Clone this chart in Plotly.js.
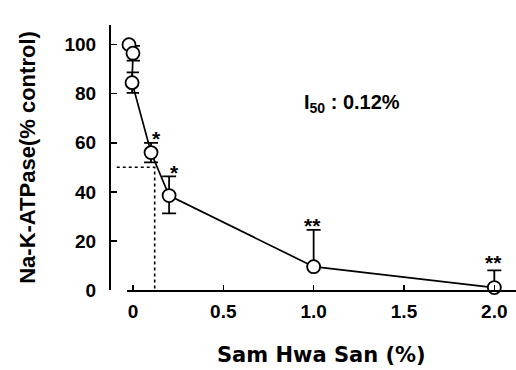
<!DOCTYPE html>
<html><head><meta charset="utf-8">
<script src="https://cdn.plot.ly/plotly-3.0.1.min.js"></script>
<style>body{margin:0;background:#fff}#chart{width:516px;height:370px}</style>
</head><body><div id="chart"></div>
<script>
// Data
const conc = [-0.022, 0.0, -0.005, 0.1, 0.2, 1.0, 2.0];          // Sam Hwa San (%)
const activity = [100, 96.5, 84.5, 56, 38.5, 9.5, 1];             // Na-K-ATPase (% control)
const errPlus = [0, 3, 4.2, 4, 7.8, 15, 7];
const errMinus = [0, 3, 4.2, 4, 7.3, 0, 0];
const signif = ["", "", "", "*", "*", "**", "**"];
const i50 = 0.12;
const i50Level = 50;
const xTicks = [0, 0.5, 1.0, 1.5, 2.0];
const xTickText = ["0", "0.5", "1.0", "1.5", "2.0"];
const yTicks = [0, 20, 40, 60, 80, 100];

const FONT = "Arial, 'Liberation Sans', sans-serif";
const WIDE = "'DejaVu Sans', Arial, sans-serif";

const traces = [
  {
    x: [-0.09, i50, i50], y: [i50Level, i50Level, 0],
    xaxis: "x2", yaxis: "y",
    mode: "lines", line: {color: "#000", width: 1.6, dash: "dot"},
    hoverinfo: "skip", showlegend: false
  },
  {
    x: conc, y: activity, mode: "lines+markers",
    line: {color: "#000", width: 1.7},
    marker: {symbol: "circle", size: 13, color: "#fff", line: {color: "#000", width: 1.8}},
    error_y: {type: "data", symmetric: false, array: errPlus, arrayminus: errMinus,
              color: "#000", thickness: 1.8, width: 7},
    showlegend: false, cliponaxis: false
  }
];

const annotations = [];
signif.forEach((s, i) => {
  if (!s) return;
  annotations.push({
    x: conc[i], y: activity[i] + errPlus[i], xref: "x", yref: "y",
    text: s, showarrow: false, yanchor: "middle",
    xshift: (conc[i] < 0.5 ? 5 : -1), yshift: (conc[i] > 1.5 ? 8 : 4),
    font: {family: FONT, size: 21, color: "#000", weight: "bold"}
  });
});
annotations.push({
  x: 1.21, y: 76, xref: "x", yref: "y", showarrow: false,
  text: "I<sub>50</sub> : " + i50.toFixed(2) + "%",
  font: {family: FONT, size: 20, color: "#000", weight: "bold"}
});

const layout = {
  width: 516, height: 370,
  margin: {l: 110, r: 0, t: 25, b: 80},
  paper_bgcolor: "#fff", plot_bgcolor: "rgba(0,0,0,0)",
  font: {family: FONT, color: "#000", weight: "bold", size: 14},
  xaxis: {
    domain: [0.041, 1], range: [-0.035, 2.12],
    tickvals: xTicks, ticktext: xTickText,
    ticks: "inside", ticklen: 5, tickwidth: 1.5, tickcolor: "#000",
    showline: true, linecolor: "#000", linewidth: 2,
    showgrid: false, zeroline: false,
    tickfont: {family: FONT, size: 19, weight: "bold"},
    ticklabelstandoff: 3,
    title: {text: "Sam Hwa San (%)", font: {family: WIDE, size: 21, weight: "bold"}, standoff: 27}
  },
  xaxis2: {
    domain: [0, 1], range: [-0.1274, 2.12], anchor: "y",
    visible: false, showgrid: false, zeroline: false
  },
  yaxis: {
    anchor: "free", position: 0, range: [0, 108],
    tickvals: yTicks,
    ticks: "inside", ticklen: 6, tickwidth: 1.5, tickcolor: "#000",
    showline: true, linecolor: "#000", linewidth: 2,
    showgrid: false, zeroline: false,
    tickfont: {family: FONT, size: 19, weight: "bold"},
    ticklabelstandoff: 9,
    title: {text: "Na-K-ATPase(% control)", font: {family: FONT, size: 22, weight: "bold"}, standoff: 22}
  },
  annotations: annotations
};

Plotly.newPlot("chart", traces, layout, {displayModeBar: false, staticPlot: true});
</script>
</body></html>
